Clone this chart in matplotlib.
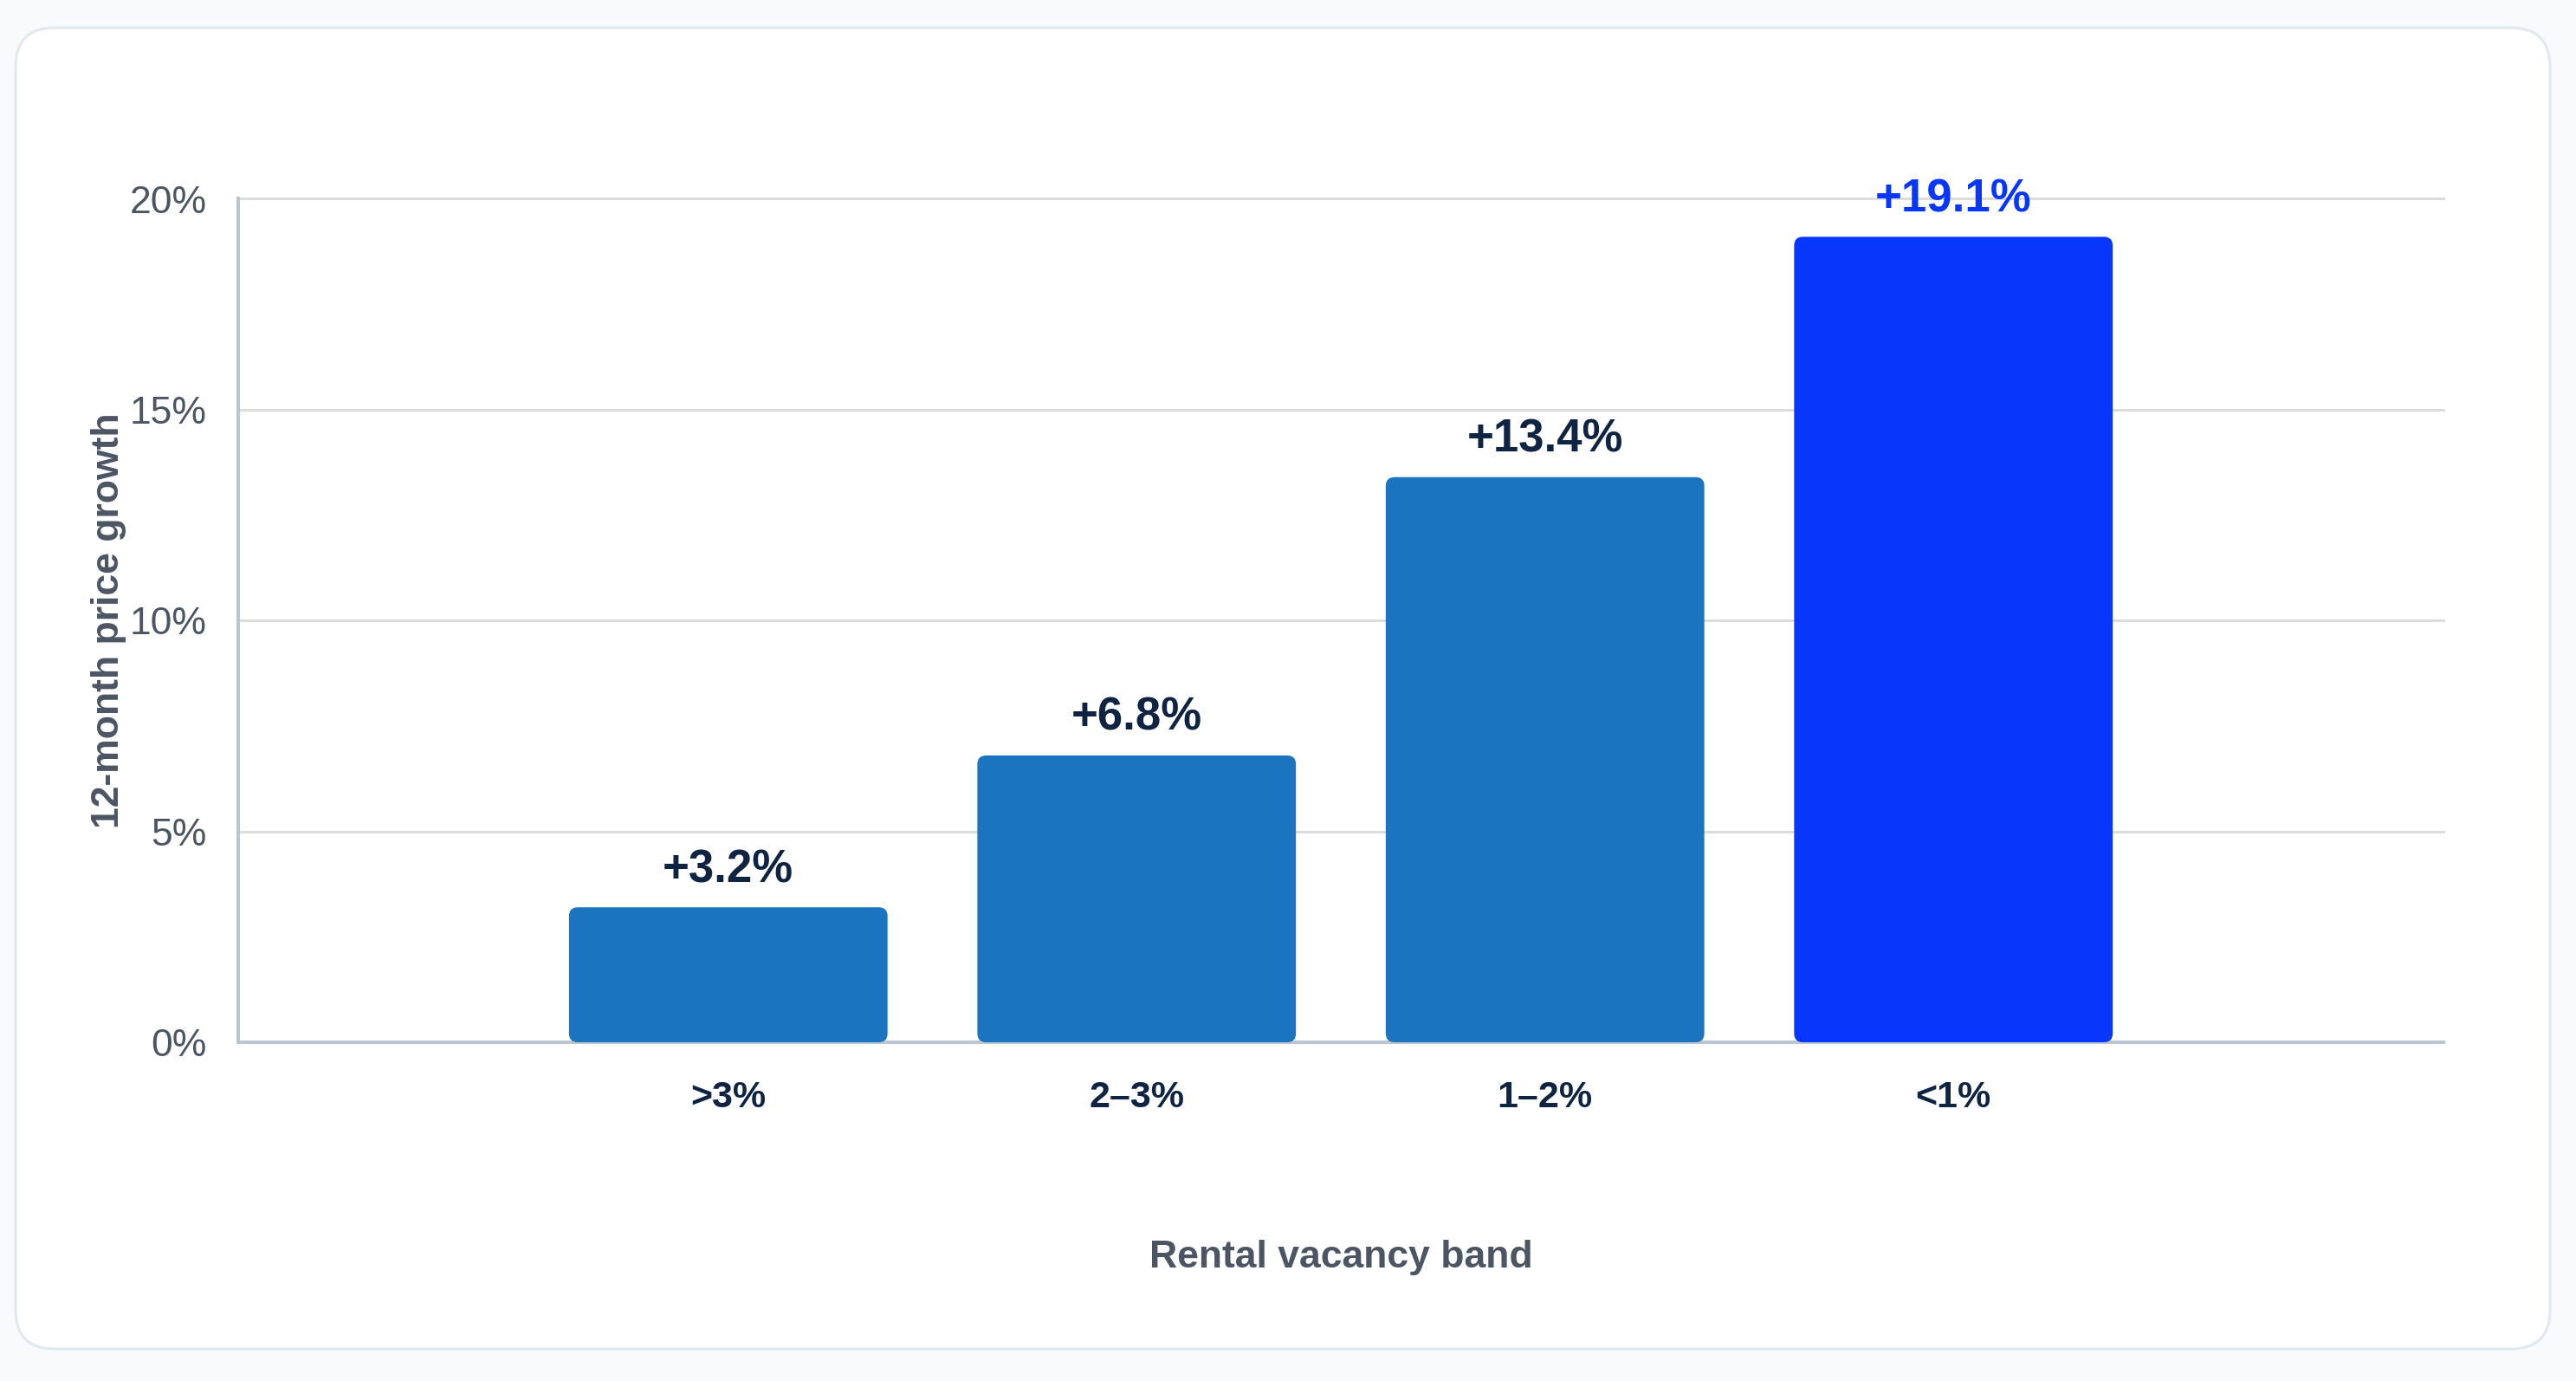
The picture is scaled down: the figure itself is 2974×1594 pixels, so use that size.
import numpy as np
import matplotlib
matplotlib.use('Agg')
import matplotlib.pyplot as plt
from matplotlib.patches import FancyBboxPatch

plt.rcParams.update({
    'font.family': ['Liberation Sans', 'DejaVu Sans'],
    'axes.unicode_minus': False,
})

# ── data ─────────────────────────────────────────────
bands = ['>3%', '2–3%', '1–2%', '<1%']
growth = [3.2, 6.8, 13.4, 19.1]
labels = ['+3.2%', '+6.8%', '+13.4%', '+19.1%']
y_ticks = [0, 5, 10, 15, 20]

BAR = '#1a74bf'
HILITE = '#0837fb'
NAVY = '#0f2342'
GRAY = '#4b5563'
GRID = '#dcdcdc'
SPINE = '#bcc5d2'
PAGE = '#f8fafc'
CARD_EDGE = '#e2e8f0'

W, H = 2974, 1594
fig = plt.figure(figsize=(W / 100, H / 100), dpi=100)
fig.patch.set_facecolor(PAGE)

# card behind the chart, in pixel units
bg = fig.add_axes([0, 0, 1, 1], zorder=-1)
bg.set_xlim(0, W)
bg.set_ylim(0, H)
bg.axis('off')
card = FancyBboxPatch((18, H - 1557), 2944 - 18, 1557 - 32,
                      boxstyle='round,pad=0,rounding_size=45',
                      facecolor='white', edgecolor=CARD_EDGE, lw=2.2)
bg.add_patch(card)

ax = fig.add_axes([275 / W, 1 - 1203 / H, (2821 - 275) / W, (1203 - 229.5) / H])
ax.set_facecolor('none')

x = np.arange(len(bands))
colors = [BAR] * (len(bands) - 1) + [HILITE]
bars = ax.bar(x, growth, width=0.78, color=colors, zorder=2)

ax.set_xlim(-1.2, len(bands) + 0.2)
ax.set_ylim(0, 20)

# swap plain rectangles for rounded ones
px_x = ax.get_position().width * W / (ax.get_xlim()[1] - ax.get_xlim()[0])
px_y = ax.get_position().height * H / 20
r = 10 / px_x
for b, c in zip(bars, colors):
    bx, by, bw, bh = b.get_x(), b.get_y(), b.get_width(), b.get_height()
    b.set_visible(False)
    ax.add_patch(FancyBboxPatch((bx, by), bw, bh,
                                boxstyle=f'round,pad=0,rounding_size={r}',
                                mutation_aspect=px_x / px_y,
                                facecolor=c, edgecolor='none', zorder=2))

for xi, v, lab, c in zip(x, growth, labels, colors):
    ax.annotate(lab, xy=(xi, v), xytext=(0, 13), textcoords='offset points',
                ha='center', va='bottom', fontsize=38, fontweight='bold',
                color=HILITE if c == HILITE else NAVY, zorder=3)

ax.set_yticks(y_ticks)
ax.set_yticklabels([f'{t}%' for t in y_ticks])
ax.set_xticks(x)
ax.set_xticklabels(bands, fontweight='bold')
ax.tick_params(axis='y', length=0, pad=26, labelsize=32, labelcolor=GRAY)
ax.tick_params(axis='x', length=0, pad=32, labelsize=31, labelcolor=NAVY)

ax.yaxis.grid(True, color=GRID, lw=2.2, zorder=0)
for gl in ax.get_ygridlines():
    gl.set_clip_on(False)
ax.set_axisbelow(True)
for s in ['top', 'right']:
    ax.spines[s].set_visible(False)
for s in ['left', 'bottom']:
    ax.spines[s].set_color(SPINE)
    ax.spines[s].set_linewidth(2.9)
    ax.spines[s].set_zorder(1)

fig.text(125 / W, 1 - 716 / H, '12-month price growth', rotation=90,
         ha='center', va='center', fontsize=32, fontweight='bold', color=GRAY)
fig.text(1548 / W, 1 - 1451 / H, 'Rental vacancy band',
         ha='center', va='center', fontsize=32, fontweight='bold', color=GRAY)

fig.savefig('out.png', dpi=100, facecolor=PAGE)
